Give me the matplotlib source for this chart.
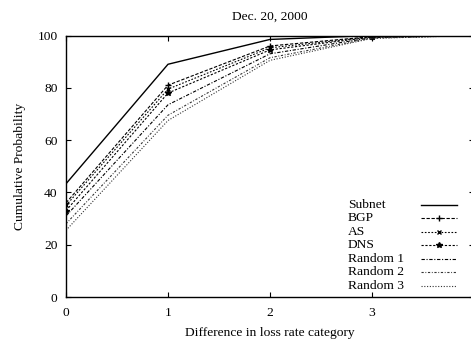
import numpy as np
import matplotlib

matplotlib.use("Agg")
import matplotlib.pyplot as plt
from matplotlib.lines import Line2D

plt.rcParams["font.family"] = ["Liberation Serif", "DejaVu Serif"]

# Data
x_vals = [0, 1, 2, 3, 4]
subnet = [43.3, 89.0, 98.5, 100.0, 100.0]
bgp = [36.0, 81.0, 96.0, 99.6, 100.0]
as_ = [35.0, 79.5, 95.3, 99.5, 100.0]
dns = [33.0, 78.0, 94.5, 99.4, 100.0]
random1 = [31.0, 73.5, 93.0, 99.2, 100.0]
random2 = [28.0, 69.5, 91.5, 99.0, 100.0]
random3 = [25.5, 67.5, 90.5, 98.9, 100.0]

labels = ["Subnet", "BGP", "AS", "DNS", "Random 1", "Random 2", "Random 3"]
series = [subnet, bgp, as_, dns, random1, random2, random3]
styles = [
    dict(ls="-", marker=None, color="black", lw=1.0),
    dict(ls=(0, (3, 1.5)), marker="+", color="black", lw=0.8, ms=5),
    dict(ls=(0, (1.5, 1.5)), marker="x", color="black", lw=0.8, ms=3.5),
    dict(ls=(0, (2, 1.5)), marker="*", color="black", lw=0.8, ms=4),
    dict(ls=(0, (3, 1.5, 1, 1.5)), marker=None, color="black", lw=0.8),
    dict(ls=(0, (2, 1.5, 0.8, 1.5)), marker=None, color="#333333", lw=0.8),
    dict(ls=(0, (1, 1.5)), marker=None, color="#333333", lw=0.8),
]

W, H = 471, 341
fig = plt.figure(figsize=(W / 100, H / 100), dpi=100)
ax = fig.add_axes([66 / W, 1 - 297 / H, 408 / W, (297 - 35.5) / H])

for y, lab, st in zip(series, labels, styles):
    ax.plot(x_vals, y, label=lab, **st)

ax.set_xlim(0, 4)
ax.set_ylim(0, 100)
ax.set_xticks([0, 1, 2, 3, 4])
ax.set_yticks([0, 20, 40, 60, 80, 100])
ax.tick_params(direction="in", top=True, right=True, length=3.5, width=0.8,
               labelsize=9.7)
ax.tick_params(axis="y", pad=6)
ax.tick_params(axis="x", pad=7)
for s in ax.spines.values():
    s.set_linewidth(1.0)

ax.set_xlabel("Difference in loss rate category", fontsize=9.7, labelpad=6)
ax.set_ylabel("Cumulative Probability", fontsize=9.7, labelpad=8)
ax.set_title("Dec. 20, 2000", fontsize=9.7, pad=11)

# gnuplot-style key: left-justified labels, samples to the right
row0, step = 205, 13.45
for i, (lab, st) in enumerate(zip(labels, styles)):
    yc = 1 - (row0 + i * step) / H
    fig.text(348 / W, yc, lab, fontsize=9.7, ha="left", va="center")
    fig.add_artist(Line2D([421 / W, 457 / W], [yc, yc], transform=fig.transFigure,
                          ls=st["ls"], color=st["color"], lw=st["lw"]))
    if st["marker"]:
        fig.add_artist(Line2D([439 / W], [yc], transform=fig.transFigure,
                              ls="none", marker=st["marker"], color=st["color"],
                              ms=st["ms"]))

fig.savefig("out.png", dpi=100)
